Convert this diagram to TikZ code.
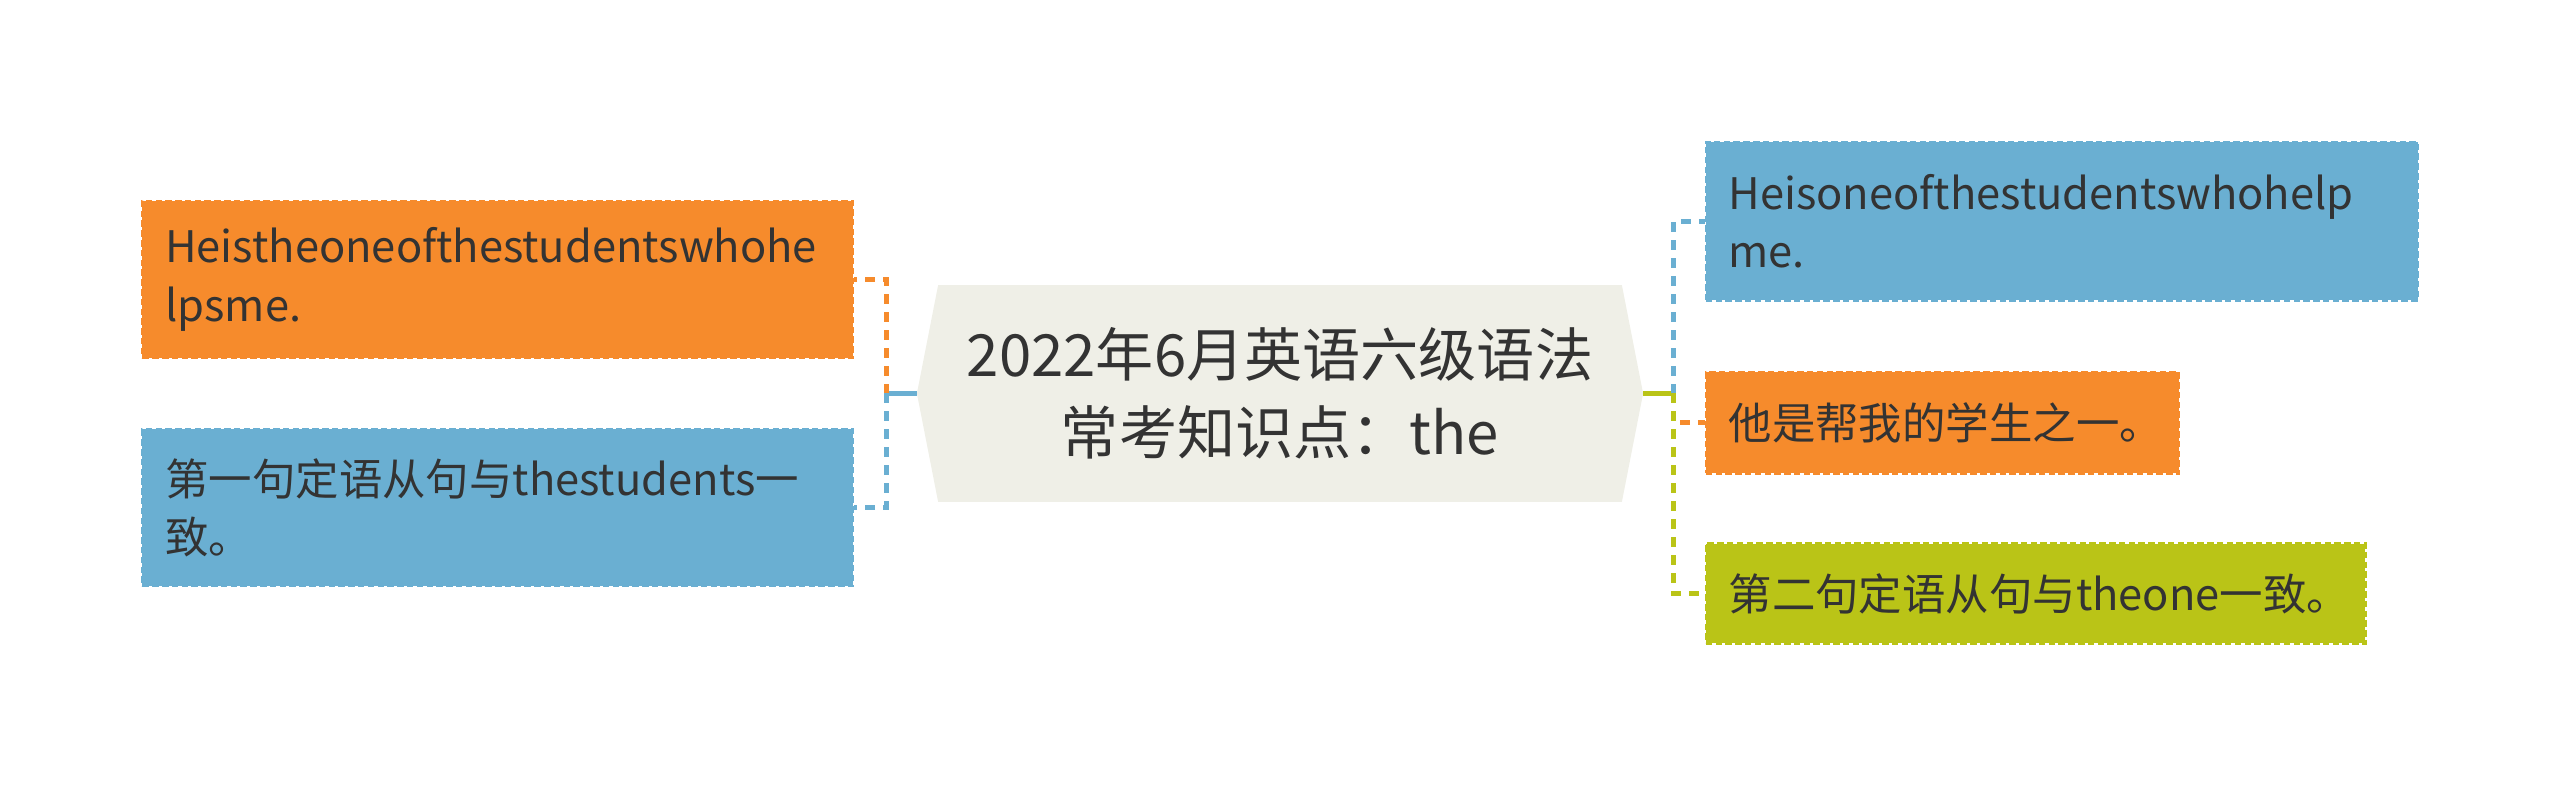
\documentclass[tikz,border=0pt]{standalone}
\usepackage{fontspec}
\setmainfont{Noto Sans CJK SC}
\usetikzlibrary{backgrounds}

\definecolor{boxorange}{HTML}{F68B2C}
\definecolor{boxblue}{HTML}{6AAFD2}
\definecolor{boxgreen}{HTML}{BAC417}
\definecolor{mainfill}{HTML}{EFEFE7}
\definecolor{textgrey}{HTML}{333333}

\begin{document}
\begin{tikzpicture}[x=0.5pt, y=-0.5pt,
		leaf/.style={draw=#1, fill=#1, dash pattern=on 2pt off 1pt, line width=0.75pt,
			inner xsep=7pt, inner ysep=0pt, align=left, text=textgrey,
			font=\fontsize{13.3pt}{18pt}\selectfont},
		link/.style={#1, line width=1.6pt, dash pattern=on 3pt off 2.5pt},
		stub/.style={#1, line width=1.6pt}]
		
		%canvas
		\useasboundingbox (0,0) rectangle (1568,482.6);
		
		%definition of joint positions
		\def\lX{543};
		\def\rX{1025};
		\def\mY{241};
		
		\coordinate (ljoint) at (\lX,\mY);
		\coordinate (rjoint) at (\rX,\mY);
		
		%main topic
		\node [minimum width=222pt, minimum height=66pt, inner sep=0pt, align=center, text=textgrey,
			font=\fontsize{17.8pt}{24pt}\selectfont] (main) at (784,\mY)
			{2022年6月英语六级语法\\常考知识点：the};
		\begin{scope}[on background layer]
			\fill [mainfill] ([xshift=6.5pt]main.north west) -- ([xshift=-6.5pt]main.north east)
				-- (main.east) -- ([xshift=-6.5pt]main.south east)
				-- ([xshift=6.5pt]main.south west) -- (main.west) -- cycle;
		\end{scope}
		
		%left leaves
		\node [leaf=boxorange, anchor=east, text width=203.5pt, minimum height=48pt] (lsent) at (523,171)
			{Heistheoneofthestudentswhohe\\lpsme.};
		\node [leaf=boxblue, anchor=east, text width=203.5pt, minimum height=48pt] (lnote) at (523,311)
			{第一句定语从句与thestudents一\\致。};
		
		%right leaves
		\node [leaf=boxblue, anchor=west, text width=204pt, minimum height=48.5pt] (rsent) at (1044,135.5)
			{Heisoneofthestudentswhohelp\\me.};
		\node [leaf=boxorange, anchor=west, text width=131pt, minimum height=31pt] (rtrans) at (1044,259)
			{他是帮我的学生之一。};
		\node [leaf=boxgreen, anchor=west, text width=188pt, minimum height=30.5pt] (rnote) at (1044,363.5)
			{第二句定语从句与theone一致。};
		
		%connectors
		\draw [stub=boxblue] (main.west) -- (ljoint);
		\draw [link=boxorange] (ljoint) |- (lsent.east);
		\draw [link=boxblue] (ljoint) |- (lnote.east);
		
		\draw [stub=boxgreen] (main.east) -- (rjoint);
		\draw [link=boxblue] (rjoint) |- (rsent.west);
		\draw [link=boxorange] (rjoint) |- (rtrans.west);
		\draw [link=boxgreen] (rjoint) |- (rnote.west);
		
	\end{tikzpicture}
\end{document}
